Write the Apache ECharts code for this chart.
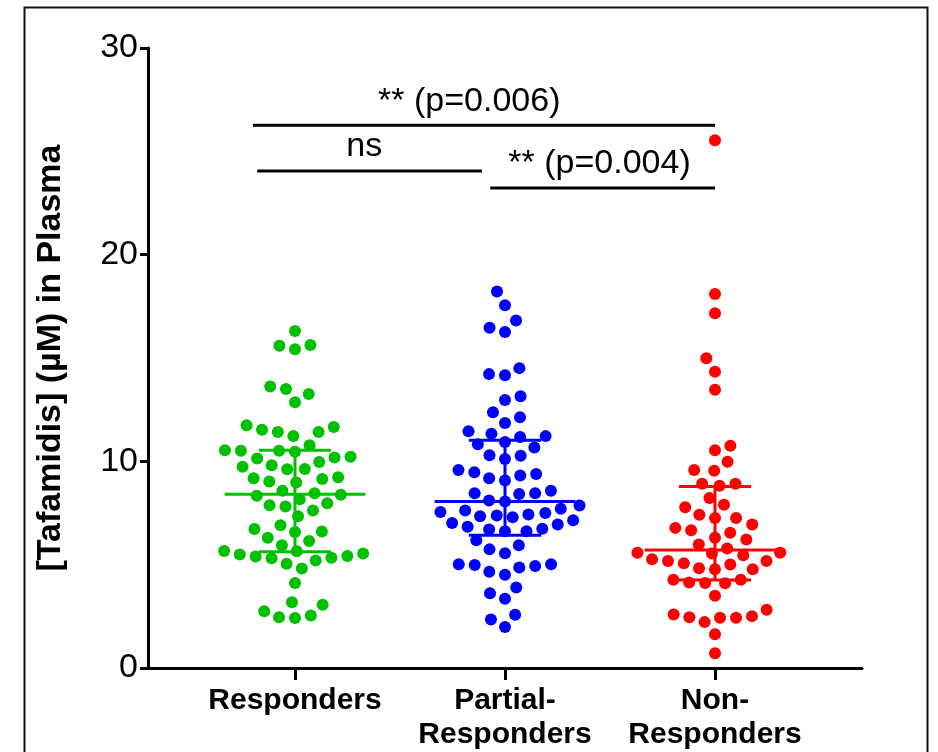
<!DOCTYPE html>
<html><head><meta charset="utf-8">
<script src="https://cdn.jsdelivr.net/npm/echarts@6/dist/echarts.min.js"></script>
<style>html,body{margin:0;padding:0;background:#fff}#c{width:938px;height:752px}</style>
</head><body><div id="c"></div>
<script>
// ---- data ----
const categories = ['Responders', 'Partial-\nResponders', 'Non-\nResponders'];
const responders = [16.31,15.59,15.42,15.63,13.50,12.86,13.26,13.62,11.53,11.42,11.74,11.66,11.23,11.42,10.78,10.51,10.46,10.19,9.97,9.81,10.14,10.22,10.51,10.54,9.63,9.23,9.14,8.98,9.02,9.18,9.62,9.74,8.58,8.38,8.17,7.87,7.62,7.82,7.97,7.34,8.34,8.46,6.73,6.58,6.91,6.14,5.94,6.30,6.61,5.65,5.49,5.39,5.31,5.05,4.81,5.20,5.34,5.42,5.54,5.66,4.11,3.06,2.54,2.42,2.45,2.75,3.18];
const partialResponders = [18.22,17.55,16.82,16.46,16.26,14.51,14.17,14.22,13.15,12.97,12.37,12.13,11.86,11.46,11.22,10.93,11.18,11.34,10.83,10.67,10.27,10.30,10.11,9.58,9.07,9.39,9.31,9.47,9.18,8.45,8.42,8.45,8.58,8.06,8.11,7.70,7.86,7.30,7.55,7.38,7.50,7.43,7.62,7.34,7.02,6.83,6.70,6.62,6.62,6.74,6.94,7.15,6.18,5.74,5.55,5.94,5.02,4.98,4.86,4.51,4.66,4.94,5.02,3.62,3.35,3.90,2.58,1.98,2.35];
const nonResponders = [25.54,18.10,17.17,14.99,14.34,13.46,10.75,10.54,9.98,9.58,9.55,8.91,8.82,8.91,8.22,7.90,7.78,7.26,7.26,7.42,6.94,6.66,6.78,6.54,6.30,6.22,5.98,5.78,5.46,5.58,5.58,5.54,5.18,5.07,4.83,4.78,4.78,5.01,5.18,5.26,4.27,4.14,4.10,4.11,4.27,3.50,2.82,2.43,2.22,2.51,2.43,2.59,2.46,1.63,0.71];
const medians = [8.41, 8.06, 5.71];
const q1 = [5.63, 6.42, 4.26];
const q3 = [10.54, 11.02, 8.78];
const yTicks = [0, 10, 20, 30];
const comparisonLabels = ['** (p=0.006)', 'ns', '** (p=0.004)'];

// ---- layout / style ----
const colors = ['#00C000', '#0000FF', '#FF0000'];
const FONT = '"Liberation Sans", Arial, Helvetica, sans-serif';
// bracket layout in data units: [x1, x2, y, labelX]
const bracketLayout = [[-0.2, 2.0, 26.26, 0.83], [-0.18, 0.89, 24.05, 0.33], [0.93, 2.0, 23.23, 1.45]];

const chart = echarts.init(document.getElementById('c'));
const baseOption = {
  animation: false,
  backgroundColor: '#fff',
  grid: { left: 148, top: 48, width: 714, height: 625, containLabel: false },
  graphic: [{ type: 'rect', left: 22, top: 5, shape: { width: 903, height: 780 }, style: { fill: 'none', stroke: '#111', lineWidth: 2 }, silent: true }],
  xAxis: {
    type: 'value', min: -0.7, max: 2.7,
    axisLine: { show: true, onZero: false, lineStyle: { color: '#000', width: 3 } },
    axisTick: { show: true, customValues: [0, 1, 2], length: 12, lineStyle: { color: '#000', width: 3 } },
    axisLabel: { customValues: [0, 1, 2], formatter: v => categories[Math.round(v)], color: '#000', fontSize: 30, fontWeight: 'bold', fontFamily: FONT, lineHeight: 34, margin: 16 },
    splitLine: { show: false }
  },
  yAxis: {
    type: 'value', min: yTicks[0], max: yTicks[yTicks.length - 1], interval: 10,
    axisLine: { show: true, onZero: false, lineStyle: { color: '#000', width: 3 } },
    axisTick: { show: true, length: 8, lineStyle: { color: '#000', width: 3 } },
    axisLabel: { color: '#000', fontSize: 34, fontFamily: FONT, margin: 10 },
    splitLine: { show: false },
    name: '[Tafamidis] (µM) in Plasma', nameLocation: 'middle', nameGap: 80,
    nameTextStyle: { color: '#000', fontSize: 34, fontWeight: 'bold', fontFamily: FONT }
  },
  series: []
};
chart.setOption(baseOption);

function swarm(py, D) {
  const order = py.map((v, i) => i).sort((a, b) => py[b] - py[a]);
  const placed = []; const out = new Array(py.length); let flip = 1;
  order.forEach(i => {
    const y = py[i]; const cands = [0];
    placed.forEach(p => { const dy = Math.abs(p.y - y); if (dy < D) { const dx = Math.sqrt(D * D - dy * dy); cands.push(p.x + dx, p.x - dx); } });
    cands.sort((a, b) => (Math.abs(a) - Math.abs(b)) || (flip * (a - b)));
    let x = 0;
    for (const c of cands) { if (placed.every(p => (p.x - c) ** 2 + (p.y - y) ** 2 >= D * D - 1e-6)) { x = c; break; } }
    if (x !== 0) flip = -flip;
    placed.push({ x, y }); out[i] = x;
  });
  return out;
}

const groups = [responders, partialResponders, nonResponders];
const scatterSeries = groups.map((vals, g) => {
  const py = vals.map(v => chart.convertToPixel({ gridIndex: 0 }, [g, v])[1]);
  const cx = chart.convertToPixel({ gridIndex: 0 }, [g, 0])[0];
  const offs = swarm(py, 16);
  const data = vals.map((v, i) => [chart.convertFromPixel({ gridIndex: 0 }, [cx + offs[i], py[i]])[0], v]);
  return { id: 's' + g, type: 'scatter', data, symbol: 'circle', symbolSize: 12, itemStyle: { color: colors[g], opacity: 1 }, z: 2, silent: true };
});

const errSeries = {
  id: 'err', type: 'custom', z: 3, silent: true,
  data: categories.map((c, i) => [i, medians[i], q1[i], q3[i]]),
  renderItem(params, api) {
    const i = api.value(0); const col = colors[params.dataIndex];
    const m = api.coord([i, api.value(1)]), lo = api.coord([i, api.value(2)]), hi = api.coord([i, api.value(3)]);
    const wm = api.size([0.335, 0])[0], wq = api.size([0.172, 0])[0];
    const st = { stroke: col, lineWidth: 3 };
    return { type: 'group', children: [
      { type: 'line', shape: { x1: m[0] - wm, y1: m[1], x2: m[0] + wm, y2: m[1] }, style: st },
      { type: 'line', shape: { x1: lo[0] - wq, y1: lo[1], x2: lo[0] + wq, y2: lo[1] }, style: st },
      { type: 'line', shape: { x1: hi[0] - wq, y1: hi[1], x2: hi[0] + wq, y2: hi[1] }, style: st },
      { type: 'line', shape: { x1: lo[0], y1: lo[1], x2: hi[0], y2: hi[1] }, style: st }
    ] };
  }
};

const bracketSeries = {
  id: 'br', type: 'custom', z: 4, silent: true, clip: false,
  data: bracketLayout.map(b => b.slice()),
  renderItem(params, api) {
    const a = api.coord([api.value(0), api.value(2)]), b = api.coord([api.value(1), api.value(2)]), t = api.coord([api.value(3), api.value(2)]);
    return { type: 'group', children: [
      { type: 'line', shape: { x1: a[0], y1: a[1], x2: b[0], y2: b[1] }, style: { stroke: '#000', lineWidth: 3 } },
      { type: 'text', x: t[0], y: a[1] - 7, style: { text: comparisonLabels[params.dataIndex], fontSize: 34, fontFamily: FONT, fill: '#000', align: 'center', verticalAlign: 'bottom' } }
    ] };
  }
};

chart.setOption({ series: [...scatterSeries, errSeries, bracketSeries] });
</script></body></html>
